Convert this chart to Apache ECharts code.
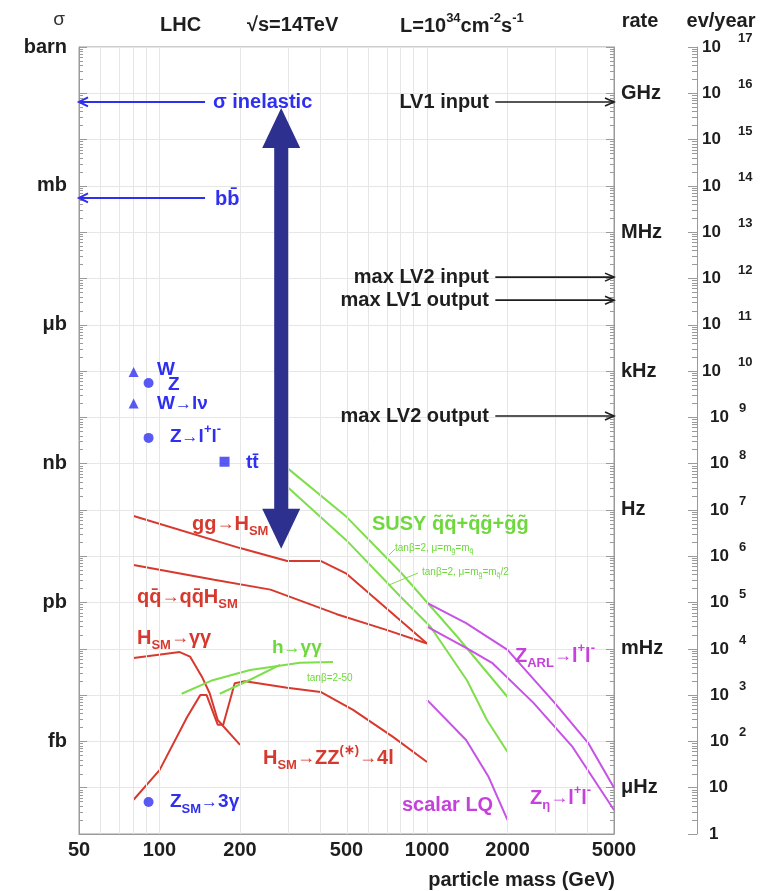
<!DOCTYPE html>
<html><head><meta charset="utf-8">
<script src="https://cdn.jsdelivr.net/npm/echarts@6/dist/echarts.min.js"></script>
<style>html,body{margin:0;padding:0;background:#fff}#c{width:760px;height:891px}</style>
</head><body><div id="c"></div>
<script>
// ---------------- data ----------------
const massTicks = [50, 100, 200, 500, 1000, 2000, 5000];
const massGridLines = [60, 70, 80, 90, 100, 200, 300, 400, 500, 600, 700, 800, 900, 1000, 2000, 3000, 4000];
const sigmaUnitNames = ['barn', 'mb', 'μb', 'nb', 'pb', 'fb'];
const sigmaUnitPb = [1e12, 1e9, 1e6, 1e3, 1, 1e-3];
const rateNames = ['GHz', 'MHz', 'kHz', 'Hz', 'mHz', 'μHz'];
const rateHz = [1e9, 1e6, 1e3, 1, 1e-3, 1e-6];
const sigmaMinPb = 1e-5, sigmaMaxPb = 1e12;
const pbToHz = 1e-2;      // L = 1e34 cm^-2 s^-1
const pbToEvYear = 1e5;   // 1 year = 1e7 s

// cross sections (mass in GeV, sigma in pb)
const ggH_mass = [80, 200, 300, 400, 500, 1000];
const ggH_pb   = [74, 15, 7.9, 7.9, 4.2, 0.13];
const qqH_mass = [80, 160, 260, 460, 700, 1000];
const qqH_pb   = [6.5, 3.1, 1.9, 0.56, 0.26, 0.13];
const Hgg_mass = [80, 119, 130, 144, 154, 165, 200];
const Hgg_pb   = [0.063, 0.085, 0.068, 0.025, 0.011, 0.0029, 0.00084];
const HZZ_mass = [80, 100, 127, 142, 150, 165, 173, 191, 209, 300, 400, 529, 746, 1000];
const HZZ_pb   = [5.5e-5, 2.4e-4, 3.4e-3, 0.010, 0.010, 2.3e-3, 2.3e-3, 0.018, 0.020, 0.0144, 0.0117, 4.8e-3, 1.25e-3, 3.6e-4];
const hgg1_mass = [121, 158, 218, 335, 445];
const hgg1_pb   = [0.0107, 0.021, 0.035, 0.050, 0.052];
const hgg2_mass = [168, 220, 282];
const hgg2_pb   = [0.0107, 0.022, 0.045];
const susyA_mass = [300, 500, 800, 1300, 2000];
const susyA_pb   = [810, 71, 4.4, 0.18, 0.0091];
const susyB_mass = [300, 500, 800, 1030, 1410, 1675, 2000];
const susyB_pb   = [316, 22, 1.3, 0.30, 0.021, 0.0029, 5.9e-4];
const zarl_mass = [1000, 1400, 2000, 3000, 4000, 5000];
const zarl_pb   = [0.98, 0.36, 0.095, 6.8e-3, 9.3e-4, 1.0e-4];
const zeta_mass = [1000, 1400, 1750, 2500, 3500, 5000];
const zeta_pb   = [0.30, 0.105, 0.050, 6.8e-3, 7.6e-4, 3.3e-5];
const lq_mass = [1000, 1400, 1700, 2000];
const lq_pb   = [7.9e-3, 1.07e-3, 1.7e-4, 2.0e-5];

// single processes
const pointNames   = ['W', 'Z', 'W→lν', 'Z→ll', 'ttbar', 'Z→3γ'];
const pointMass    = [80, 91, 80, 91, 175, 91];
const pointPb      = [9.6e4, 5.5e4, 2.0e4, 3600, 1100, 4.9e-5];
const pointSymbols = ['triangle', 'circle', 'triangle', 'circle', 'rect', 'circle'];

// horizontal levels
const blueLevelNames = ['σ inelastic', 'bb'];
const blueLevelPb = [6.5e10, 5.5e8];
const blueArrowTailMass = 148, blueArrowHeadMass = 50;
const triggerNames = ['LV1 input', 'max LV2 input', 'max LV1 output', 'max LV2 output'];
const triggerHz = [6.5e8, 1.07e5, 3.4e4, 107];
const triggerTailMass = 1800, triggerHeadMass = 5000;
// big range arrow
const rangeArrowMass = 285, rangeArrowTopPb = 4.8e10, rangeArrowBottomPb = 14.5;

// ---------------- chart ----------------
const lg = Math.log10;
const F = '"Liberation Sans", Arial, Helvetica, sans-serif';
const RED = '#d8392e', GREEN = '#7ede4c', GREENT = '#6fd83c', MAG = '#c752e6', MAGT = '#c640dc',
      BLUE = '#2f2ff0', NAVY = '#2e3090', BLACK = '#1e1e1e', AX = '#9a9a9a';

const majorTicks = []; for (let n = -5; n <= 12; n++) majorTicks.push(n);
const minorTicks = []; for (let n = -5; n < 12; n++) for (let k = 2; k < 10; k++) minorTicks.push(n + lg(k));

function pairs(ms, vs) { return ms.map((m, i) => [lg(m), lg(vs[i])]); }
function curve(name, ms, vs, color) {
  return { name, type: 'line', data: pairs(ms, vs), symbol: 'none', showSymbol: false,
    lineStyle: { color, width: 2 }, z: 4, silent: true, animation: false };
}
function findLabel(vals, names, v) {
  const i = vals.findIndex(p => Math.abs(lg(p) - v) < 1e-6);
  return i < 0 ? '' : names[i];
}
const baseY = { type: 'value', min: lg(sigmaMinPb), max: lg(sigmaMaxPb), interval: 1, splitLine: { show: false } };
const tickStyle = { color: AX, width: 1 };
const lblStyle = { color: BLACK, fontSize: 20, fontWeight: 'bold', fontFamily: F };

function hArrows(items, color, width, hl, hh) {
  return { type: 'custom', coordinateSystem: 'cartesian2d', silent: true, z: 6, clip: false, animation: false,
    data: items, encode: { x: [0, 1], y: 2 },
    renderItem: (params, api) => {
      const t = api.coord([api.value(0), api.value(2)]);
      const h = api.coord([api.value(1), api.value(2)]);
      const d = Math.sign(h[0] - t[0]);
      return { type: 'group', children: [
        { type: 'line', shape: { x1: t[0], y1: t[1], x2: h[0], y2: h[1] }, style: { stroke: color, lineWidth: width } },
        { type: 'polyline', shape: { points: [[h[0] - d * hl, h[1] - hh], [h[0], h[1]], [h[0] - d * hl, h[1] + hh]] },
          style: { stroke: color, lineWidth: width, fill: null } }
      ] };
    } };
}

function rs(color, size, weight) {
  const w = weight || 'bold';
  const small = Math.round(size * 0.66);
  return {
    m: { fill: color, fontSize: size, fontWeight: w, fontFamily: F, lineHeight: 28 },
    a: { fill: color, fontSize: Math.round(size * 0.9), fontWeight: w, fontFamily: F, lineHeight: 28 },
    s: { fill: color, fontSize: small, fontWeight: w, fontFamily: F, lineHeight: 15, verticalAlign: 'bottom' },
    u: { fill: color, fontSize: small, fontWeight: w, fontFamily: F, lineHeight: 15, verticalAlign: 'top' },
    t: { fill: color, fontSize: 10, fontWeight: 'normal', fontFamily: F, lineHeight: 14 },
    ts: { fill: color, fontSize: 7, fontWeight: 'normal', fontFamily: F, lineHeight: 8, verticalAlign: 'bottom' }
  };
}
// annotation texts: [x, y, markup, color, size, align, weight]
const texts = [
  [59, 20, '{m|σ}', '#333', 19, 'center', 'normal'],
  [160, 25, '{m|LHC}', BLACK, 20, 'left'],
  [247, 25, '{m|√s=14TeV}', BLACK, 20, 'left'],
  [400, 26, '{m|L=10}{u|34}{m|cm}{u|-2}{m|s}{u|-1}', BLACK, 20, 'left'],
  [640, 21, '{m|rate}', BLACK, 20, 'center'],
  [721, 21, '{m|ev/year}', BLACK, 20, 'center'],
  [615, 880, '{m|particle mass (GeV)}', BLACK, 20, 'right'],
  [213, 102, '{m|' + blueLevelNames[0] + '}', BLUE, 20, 'left'],
  [215, 199, '{m|bb\u0304}', BLUE, 20, 'left'],
  [157, 370, '{m|W}', BLUE, 19, 'left'],
  [168, 385, '{m|Z}', BLUE, 19, 'left'],
  [157, 404, '{m|W}{a|→}{m|lν}', BLUE, 19, 'left'],
  [170, 437, '{m|Z}{a|→}{m|l}{u|+}{m|l}{u|-}', BLUE, 19, 'left'],
  [246, 463, '{m|tt\u0304}', BLUE, 19, 'left'],
  [170, 802, '{m|Z}{s|SM}{a|→}{m|3γ}', BLUE, 19, 'left'],
  [192, 524, '{m|gg}{a|→}{m|H}{s|SM}', RED, 20, 'left'],
  [137, 597, '{m|qq\u0304}{a|→}{m|qq\u0304H}{s|SM}', RED, 20, 'left'],
  [137, 638, '{m|H}{s|SM}{a|→}{m|γγ}', RED, 20, 'left'],
  [263, 758, '{m|H}{s|SM}{a|→}{m|ZZ}{u|(∗)}{a|→}{m|4l}', RED, 20, 'left'],
  [272, 648, '{m|h}{a|→}{m|γγ}', GREENT, 19, 'left'],
  [307, 678, '{t|tanβ=2-50}', GREENT, 19, 'left'],
  [372, 524, '{m|SUSY q\u0303q\u0303+q\u0303g\u0303+g\u0303g\u0303}', GREENT, 20, 'left'],
  [395, 548, '{t|tanβ=2, μ=m}{ts|g\u0303}{t|=m}{ts|q\u0303}', GREENT, 19, 'left'],
  [422, 572, '{t|tanβ=2, μ=m}{ts|g\u0303}{t|=m}{ts|q\u0303}{t|/2}', GREENT, 19, 'left'],
  [515, 656, '{m|Z}{s|ARL}{a|→}{m|l}{u|+}{m|l}{u|-}', MAGT, 20, 'left'],
  [530, 798, '{m|Z}{s|η}{a|→}{m|l}{u|+}{m|l}{u|-}', MAGT, 20, 'left'],
  [402, 805, '{m|scalar LQ}', MAGT, 20, 'left'],
  [489, 102, '{m|' + triggerNames[0] + '}', BLACK, 20, 'right'],
  [489, 277, '{m|' + triggerNames[1] + '}', BLACK, 20, 'right'],
  [489, 300, '{m|' + triggerNames[2] + '}', BLACK, 20, 'right'],
  [489, 416, '{m|' + triggerNames[3] + '}', BLACK, 20, 'right']
];
const graphic = texts.map(t => ({ type: 'text', x: t[0], y: t[1], z: 20, silent: true,
  style: { text: t[2], rich: rs(t[3], t[4], t[6]), align: t[5], verticalAlign: 'middle',
    fill: t[3], font: 'bold ' + t[4] + 'px ' + F } }));
graphic.push({ type: 'line', z: 20, silent: true, shape: { x1: 389, y1: 585, x2: 418, y2: 573 }, style: { stroke: GREEN, lineWidth: 1 } });
graphic.push({ type: 'line', z: 20, silent: true, shape: { x1: 389, y1: 555, x2: 395, y2: 549 }, style: { stroke: GREEN, lineWidth: 1 } });

const evRich = {
  p: { color: BLACK, fontSize: 17, fontWeight: 'bold', fontFamily: F, padding: [0, 0, 0, 7] },
  b2: { color: BLACK, fontSize: 17, fontWeight: 'bold', fontFamily: F, lineHeight: 30 },
  e2: { color: BLACK, fontSize: 13, fontWeight: 'bold', fontFamily: F, lineHeight: 13, verticalAlign: 'top', padding: [0, 0, 0, 17] },
  b1: { color: BLACK, fontSize: 17, fontWeight: 'bold', fontFamily: F, lineHeight: 30, padding: [0, 0, 0, 8] },
  e1: { color: BLACK, fontSize: 13, fontWeight: 'bold', fontFamily: F, lineHeight: 13, verticalAlign: 'top', padding: [0, 0, 0, 10] }
};

const option = {
  animation: false,
  backgroundColor: '#fff',
  grid: { left: 79, right: 146, top: 47, bottom: 57, show: true, borderColor: AX, borderWidth: 1, outerBoundsMode: 'none', containLabel: false },
  xAxis: [{ type: 'value', min: lg(50), max: lg(5000),
    axisLine: { show: true, onZero: false, lineStyle: { color: AX } }, axisTick: { show: false }, splitLine: { show: false },
    axisLabel: { customValues: massTicks.map(lg), formatter: v => String(Math.round(Math.pow(10, v))), margin: 6, ...lblStyle } }],
  yAxis: [
    { ...baseY, position: 'left', axisLine: { show: true, onZero: false, lineStyle: { color: AX } },
      axisTick: { show: true, inside: true, length: 8, customValues: majorTicks, lineStyle: tickStyle },
      splitLine: { show: true, lineStyle: { color: '#e6e6e6', width: 1 } },
      axisLabel: { customValues: sigmaUnitPb.map(lg), formatter: v => findLabel(sigmaUnitPb, sigmaUnitNames, v), margin: 12, ...lblStyle } },
    { ...baseY, position: 'left', axisLine: { show: false, onZero: false },
      axisTick: { show: true, inside: true, length: 4, customValues: minorTicks, lineStyle: tickStyle }, axisLabel: { show: false } },
    { ...baseY, position: 'right', axisLine: { show: true, onZero: false, lineStyle: { color: AX } },
      axisTick: { show: true, inside: true, length: 8, customValues: majorTicks, lineStyle: tickStyle },
      axisLabel: { customValues: rateHz.map(r => lg(r / pbToHz)), formatter: v => findLabel(rateHz.map(r => r / pbToHz), rateNames, v), margin: 7, ...lblStyle } },
    { ...baseY, position: 'right', axisLine: { show: false, onZero: false },
      axisTick: { show: true, inside: true, length: 4, customValues: minorTicks, lineStyle: tickStyle }, axisLabel: { show: false } },
    { ...baseY, position: 'right', offset: 83, axisLine: { show: true, onZero: false, lineStyle: { color: AX } },
      axisTick: { show: true, inside: true, length: 9, customValues: majorTicks, lineStyle: tickStyle },
      axisLabel: { customValues: majorTicks, margin: 5, rich: evRich, formatter: v => {
        const e = Math.round(v + lg(pbToEvYear));
        if (e === 0) return '{p|1}';
        if (e === 1) return '{p|10}';
        return e >= 10 ? '{b2|10}{e2|' + e + '}' : '{b1|10}{e1|' + e + '}';
      } } },
    { ...baseY, position: 'right', offset: 83, axisLine: { show: false, onZero: false },
      axisTick: { show: true, inside: true, length: 5, customValues: minorTicks, lineStyle: tickStyle }, axisLabel: { show: false } }
  ],
  series: [
    { type: 'line', data: [], z: 1, silent: true,
      markLine: { silent: true, symbol: ['none', 'none'], label: { show: false }, animation: false,
        lineStyle: { color: '#e6e6e6', width: 1, type: 'solid' },
        data: massGridLines.map(m => ({ xAxis: lg(m) })) } },
    curve('gg→H', ggH_mass, ggH_pb, RED),
    curve('qq→qqH', qqH_mass, qqH_pb, RED),
    curve('H→γγ', Hgg_mass, Hgg_pb, RED),
    curve('H→ZZ→4l', HZZ_mass, HZZ_pb, RED),
    curve('h→γγ a', hgg1_mass, hgg1_pb, GREEN),
    curve('h→γγ b', hgg2_mass, hgg2_pb, GREEN),
    curve('SUSY a', susyA_mass, susyA_pb, GREEN),
    curve('SUSY b', susyB_mass, susyB_pb, GREEN),
    curve('Z_ARL', zarl_mass, zarl_pb, MAG),
    curve('Z_eta', zeta_mass, zeta_pb, MAG),
    curve('scalar LQ', lq_mass, lq_pb, MAG),
    { type: 'scatter', z: 6, silent: true, symbolSize: 10, itemStyle: { color: BLUE },
      data: pointMass.map((m, i) => ({ name: pointNames[i], value: [lg(m), lg(pointPb[i])], symbol: pointSymbols[i] })) },
    hArrows(blueLevelPb.map(p => [lg(blueArrowTailMass), lg(blueArrowHeadMass), lg(p)]), BLUE, 2, 9, 4.5),
    hArrows(triggerHz.map(r => [lg(triggerTailMass), lg(triggerHeadMass), lg(r / pbToHz)]), BLACK, 1.6, 9, 4),
    { type: 'custom', coordinateSystem: 'cartesian2d', silent: true, z: 7, clip: false,
      data: [[lg(rangeArrowMass), lg(rangeArrowTopPb), lg(rangeArrowBottomPb)]], encode: { x: 0, y: [1, 2] },
      renderItem: (params, api) => {
        const t = api.coord([api.value(0), api.value(1)]);
        const b = api.coord([api.value(0), api.value(2)]);
        const x = t[0], hw = 19, sw = 7, hl = 40;
        return { type: 'polygon', shape: { points: [
          [x, t[1]], [x + hw, t[1] + hl], [x + sw, t[1] + hl], [x + sw, b[1] - hl], [x + hw, b[1] - hl],
          [x, b[1]], [x - hw, b[1] - hl], [x - sw, b[1] - hl], [x - sw, t[1] + hl], [x - hw, t[1] + hl]] },
          style: { fill: NAVY } };
      } }
  ],
  graphic
};
const chart = echarts.init(document.getElementById('c'), null, { renderer: 'canvas' });
chart.setOption(option);
</script></body></html>
